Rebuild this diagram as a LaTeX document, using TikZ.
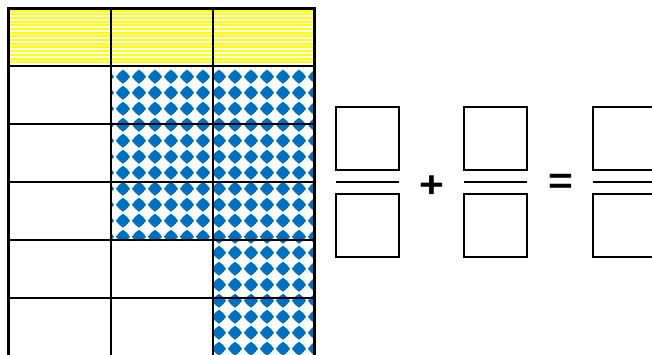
\documentclass[tikz,border=0pt]{standalone}
\usepackage{fontspec}
\setmainfont{Liberation Sans}
\usetikzlibrary{calc}
\definecolor{pblue}{HTML}{0070C0}
\definecolor{pyellow}{HTML}{FFFF00}
\tikzset{
  gridline/.style={line width=2.9pt, black},
  stripe/.style={line width=2pt, pyellow},
  dia/.style={fill=pblue, draw=none},
  fracbox/.style={draw, line width=2.4pt, minimum width=63pt, minimum height=63pt, inner sep=0pt},
  fracline/.style={line width=2.8pt},
  sign/.style={inner sep=0pt, font=\fontsize{37}{37}\selectfont\bfseries}
}
\begin{document}
\begin{tikzpicture}[x=1pt,y=-1pt]
\useasboundingbox (0,0) rectangle (652,355);
\begin{scope}
\clip (0,0) rectangle (652,355);
% yellow striped top row
\begin{scope}
\clip (8.5,8.5) rectangle (315,66);
\foreach \k in {0,...,16} {
  \draw[stripe] (8,{10.8+3.67*\k}) -- (316,{10.8+3.67*\k});
}
\end{scope}
% blue diamond pattern
\begin{scope}
\clip (111,66) -- (315,66) -- (315,356) -- (213,356) -- (213,240) -- (111,240) -- cycle;
\foreach \i in {0,...,13} {
  \foreach \j in {0,...,18} {
    \fill[dia] ({107+16*\i},{76.7+16*\j}) +(-7,0) -- +(-3.9,-3.9) -- +(0,-7) -- +(3.9,-3.9) -- +(7,0) -- +(3.9,3.9) -- +(0,7) -- +(-3.9,3.9) -- cycle;
  }
}
\end{scope}
% grid
\foreach \x in {8.5,111,213,314.7} {
  \draw[gridline] (\x,7) -- (\x,357);
}
\foreach \y in {8.5,66,124,182,240,298} {
  \draw[gridline] (7,\y) -- (316.2,\y);
}
% fractions
\node[fracbox] (t1) at (367.5,138.5) {};
\node[fracbox] (b1) at (367.5,225.5) {};
\node[fracbox] (t2) at (495.5,138.5) {};
\node[fracbox] (b2) at (495.5,225.5) {};
\node[fracbox] (t3) at (624.5,138.5) {};
\node[fracbox] (b3) at (624.5,225.5) {};
\foreach \n in {1,2,3} {
  \draw[fracline] ($(t\n.south west)!0.5!(b\n.north west)+(1,0)$) -- ($(t\n.south east)!0.5!(b\n.north east)+(-1,0)$);
}
\node[sign, xscale=1.15] (plus) at (431.5,187) {+};
\node[sign, xscale=1.15] (eq) at (560.5,183.7) {=};
\end{scope}
\end{tikzpicture}
\end{document}
